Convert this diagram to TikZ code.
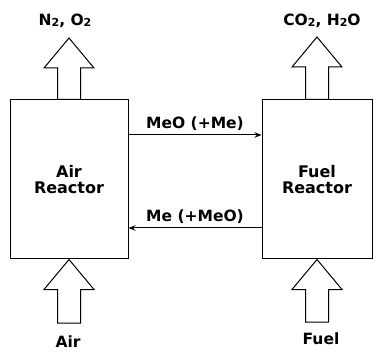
\documentclass[tikz,border=0pt]{standalone}
\usepackage{fontspec}
\setmainfont{DejaVu Sans}
\usetikzlibrary{arrows.meta, calc}
% small digit on the baseline, as in the chemical formulas
\newcommand{\lowdigit}[1]{\raisebox{-0.5pt}{\fontsize{11}{11}\selectfont #1}}
\tikzset{
    % Box styles
    reactor/.style={
        rectangle,
        draw=black,
        line width=1pt,
        align=center,
        font=\fontsize{16}{16}\selectfont\bfseries
    },
    label/.style={
        font=\fontsize{15.5}{17}\selectfont\bfseries
    },
    % Arrow styles
    flow/.style={
        -{Stealth[length=7pt, width=5.5pt]},
        line width=1pt,
        draw=black
    },
    blockarrow/.style={
        draw=black,
        line width=1pt,
        fill=white,
        to path={
            let \p1=(\tikztostart), \p2=(\tikztotarget) in
            (\x1-11.5pt,\y1) -- (\x1-11.5pt,\y2-30pt) -- (\x1-25pt,\y2-30pt)
            -- (\x2,\y2) -- (\x1+25pt,\y2-30pt) -- (\x1+11.5pt,\y2-30pt)
            -- (\x1+11.5pt,\y1) -- cycle
        }
    }
}
\begin{document}
\begin{tikzpicture}[x=1pt, y=1pt]
    \useasboundingbox (0,0) rectangle (378,354);

    % Reactors
    \node[reactor, minimum width=118pt, minimum height=159pt] (air) at (69,174.5) {Air\\Reactor};
    \node[reactor, minimum width=110pt, minimum height=159pt] (fuel) at (317,174.5) {Fuel\\Reactor};

    % Outlet streams
    \coordinate (airout) at (69,316);
    \coordinate (fuelout) at (317,317);
    \draw[blockarrow] (air.north) to (airout);
    \draw[blockarrow] (fuel.north) to (fuelout);
    \node[label] (n2o2) at (65,333) {N\lowdigit{2}, O\lowdigit{2}};
    \node[label] (co2h2o) at (322,333) {CO\lowdigit{2}, H\lowdigit{2}O};

    % Inlet streams
    \coordinate (airin) at (69,31);
    \coordinate (fuelin) at (317,32);
    \draw[blockarrow] (airin) to (air.south);
    \draw[blockarrow] (fuelin) to (fuel.south);
    \node[label] (airlbl) at (68,12) {Air};
    \node[label] (fuellbl) at (321,15) {Fuel};

    % Oxygen carrier loop
    \draw[flow] ([yshift=44.5pt]air.east) -- node[label, above=1pt] (meo) {MeO (+Me)} ([yshift=44.5pt]fuel.west);
    \draw[flow] ([yshift=-48.5pt]fuel.west) -- node[label, above=1pt] (me) {Me (+MeO)} ([yshift=-48.5pt]air.east);
\end{tikzpicture}
\end{document}
